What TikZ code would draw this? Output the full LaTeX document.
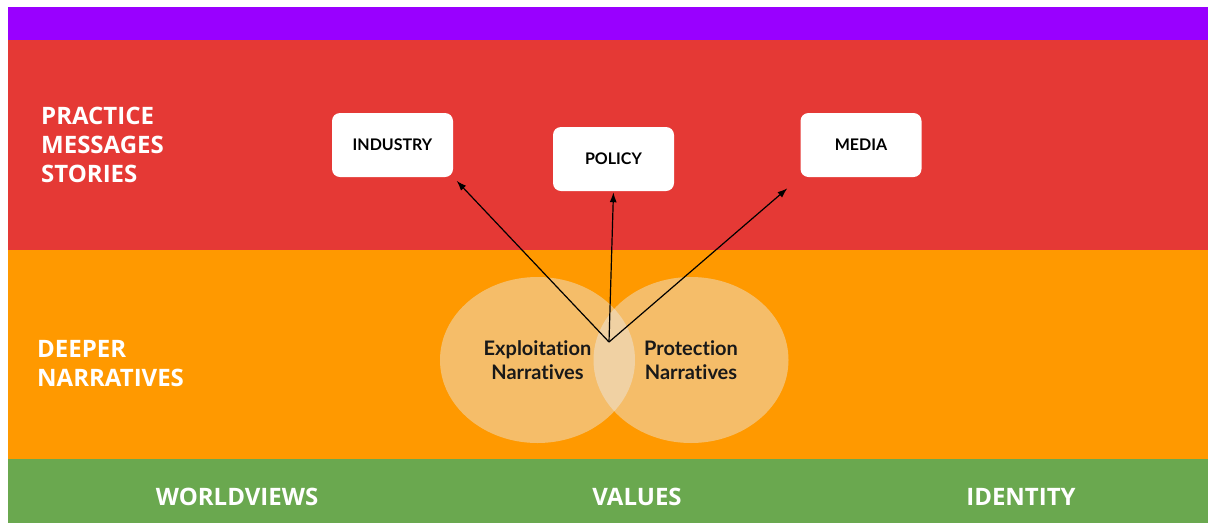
\documentclass[tikz,border=0pt]{standalone}
\usepackage{fontspec}
\newfontfamily\bandfont{Open Sans}
\newfontfamily\latofont[Ligatures=NoCommon]{Lato}
\usepackage{tikz}
\usetikzlibrary{positioning}
\usetikzlibrary{arrows.meta,shapes}
\definecolor{bandpurple}{HTML}{9900FF}
\definecolor{bandred}{HTML}{E53935}
\definecolor{bandorange}{HTML}{FF9900}
\definecolor{bandgreen}{HTML}{6AA84F}
\tikzstyle{bandlabel}=[text=white,font=\bandfont\bfseries\fontsize{24}{29}\selectfont,align=left,anchor=west,inner sep=0pt]
\tikzstyle{footlabel}=[text=white,font=\bandfont\bfseries\fontsize{24}{28}\selectfont,inner sep=0pt]
\tikzstyle{sourcebox}=[rectangle,rounded corners=8pt,fill=white,minimum width=121pt,minimum height=64pt,inner sep=0pt,font=\latofont\bfseries\fontsize{16}{19}\selectfont,text=black]
\tikzstyle{narrative}=[ellipse,fill=white!92!black,fill opacity=0.45,text opacity=1,minimum width=195pt,minimum height=166pt,inner sep=0pt,align=center,font=\latofont\bfseries\fontsize{20}{24}\selectfont,text=black!90]
\tikzstyle{edge} = [draw,line width=1.2pt,-{Latex[length=10pt,width=7pt]}]

\begin{document}
\begin{tikzpicture}[x=1pt,y=-1pt]
    \fill[white] (0,0) rectangle (1208,523);
    \path[use as bounding box] (0,0) rectangle (1208,523);

    % bands
    \foreach \top/\bot/\col in {7/40/bandpurple, 40/250/bandred, 250/459/bandorange, 459/523/bandgreen}
        \fill[\col] (8,\top) rectangle (1208,\bot);

    \node[bandlabel] (practice) at (41,145) {PRACTICE\\MESSAGES\\STORIES};
    \node[bandlabel] (deeper) at (37,364) {DEEPER\\NARRATIVES};

    \foreach \pos/\name/\label in {{(237,497)/worldviews/WORLDVIEWS}, {(637,497)/values/VALUES}, {(1021,497)/identity/IDENTITY}}
        \node[footlabel] (\name) at \pos {\label};

    % narratives
    \foreach \pos/\name/\label in {{(537.5,360)/exploit/Exploitation\\Narratives}, {(691,360)/protect/Protection\\Narratives}}
        \node[narrative] (\name) at \pos {\label};

    \coordinate (hub) at (609,342);

    \foreach \pos/\name/\label in {{(392.5,145)/industry/INDUSTRY}, {(613.5,159)/policy/POLICY}, {(861,145)/media/MEDIA}}
        \node[sourcebox] (\name) at \pos {\label};

    \foreach \dest/\gap in {industry.south east/5, policy.south/1, media.south west/17}
        \path[edge, shorten >=\gap pt] (hub) -- (\dest);

\end{tikzpicture}
\end{document}
